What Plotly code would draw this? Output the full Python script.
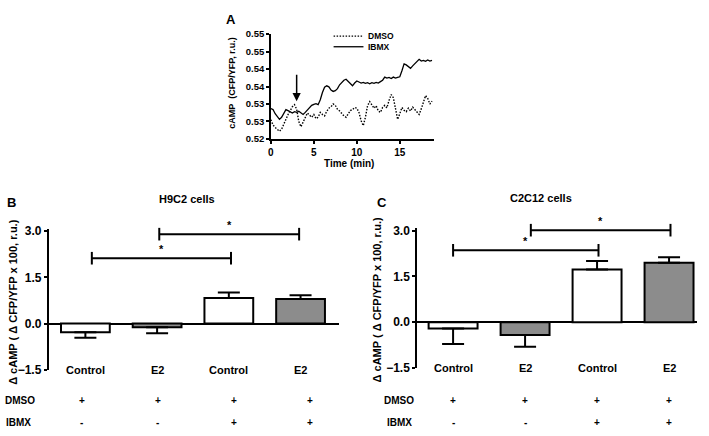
import plotly.graph_objects as go

# ---------------- data ----------------
# Panel A: time course (min) and cAMP (CFP/YFP, r.u.)
time_min = [0.00, 0.25, 0.50, 0.75, 1.00, 1.25, 1.50, 1.75, 2.00, 2.25, 2.50, 2.75,
            3.00, 3.25, 3.50, 3.75, 4.00, 4.25, 4.50, 4.75, 5.00, 5.25, 5.50, 5.75,
            6.00, 6.25, 6.50, 6.75, 7.00, 7.25, 7.50, 7.75, 8.00, 8.25, 8.50, 8.75,
            9.00, 9.25, 9.50, 9.75, 10.00, 10.25, 10.50, 10.75, 11.00, 11.25, 11.50, 11.75,
            12.00, 12.25, 12.50, 12.75, 13.00, 13.25, 13.50, 13.75, 14.00, 14.25, 14.50, 14.75,
            15.00, 15.25, 15.50, 15.75, 16.00, 16.25, 16.50, 16.75, 17.00, 17.25, 17.50, 17.75,
            18.00, 18.25, 18.50, 18.75]

ibmx_trace = [0.5287, 0.5284, 0.5272, 0.5262, 0.5256, 0.5262, 0.5275, 0.5284, 0.5281, 0.5277, 0.5274, 0.5278,
              0.5276, 0.5279, 0.5273, 0.5270, 0.5276, 0.5283, 0.5292, 0.5296, 0.5299, 0.5301, 0.5298, 0.5312,
              0.5333, 0.5348, 0.5352, 0.5349, 0.5340, 0.5336, 0.5338, 0.5344, 0.5355, 0.5362, 0.5368, 0.5371,
              0.5364, 0.5356, 0.5352, 0.5360, 0.5366, 0.5363, 0.5360, 0.5362, 0.5359, 0.5361, 0.5358, 0.5361,
              0.5359, 0.5362, 0.5360, 0.5364, 0.5368, 0.5377, 0.5374, 0.5376, 0.5373, 0.5377, 0.5374, 0.5376,
              0.5378, 0.5395, 0.5415, 0.5412, 0.5406, 0.5402, 0.5409, 0.5416, 0.5424, 0.5428, 0.5423, 0.5425,
              0.5422, 0.5426, 0.5423, 0.5425]

dmso_trace = [0.5255, 0.5240, 0.5233, 0.5226, 0.5222, 0.5228, 0.5243, 0.5256, 0.5270, 0.5281, 0.5292, 0.5298,
              0.5285, 0.5250, 0.5235, 0.5248, 0.5262, 0.5274, 0.5268, 0.5262, 0.5270, 0.5258, 0.5262, 0.5276,
              0.5270, 0.5266, 0.5279, 0.5288, 0.5292, 0.5300, 0.5296, 0.5285, 0.5280, 0.5272, 0.5266, 0.5262,
              0.5270, 0.5281, 0.5284, 0.5290, 0.5288, 0.5276, 0.5252, 0.5238, 0.5262, 0.5295, 0.5307, 0.5296,
              0.5288, 0.5295, 0.5280, 0.5276, 0.5290, 0.5296, 0.5289, 0.5310, 0.5327, 0.5318, 0.5282, 0.5256,
              0.5272, 0.5290, 0.5282, 0.5278, 0.5288, 0.5280, 0.5291, 0.5284, 0.5276, 0.5270, 0.5286, 0.5305,
              0.5324, 0.5316, 0.5300, 0.5308]

arrow_time = 3.0
arrow_from = 0.5388
arrow_to = 0.5308

a_xticks = [0, 5, 10, 15]
a_yticks = [0.520, 0.525, 0.530, 0.535, 0.540, 0.545, 0.550]
a_yticktext = ["0.52", "0.53", "0.53", "0.54", "0.54", "0.55", "0.55"]

# Panels B and C: bar charts
treatments = ["Control", "E2", "Control", "E2"]
dmso_signs = ["+", "+", "+", "+"]
ibmx_signs = ["-", "-", "+", "+"]

h9c2_mean = [-0.28, -0.12, 0.83, 0.80]
h9c2_sem = [0.18, 0.19, 0.18, 0.12]
c2c12_mean = [-0.21, -0.42, 1.73, 1.95]
c2c12_sem = [0.51, 0.39, 0.28, 0.18]

# significance brackets: (start, end, height)
h9c2_brackets = [(0.09, 2.03, 2.12), (1.03, 2.98, 2.90)]
c2c12_brackets = [(0.00, 2.02, 2.36), (1.08, 3.02, 3.02)]

bar_ticks = [-1.5, 0.0, 1.5, 3.0]

# ---------------- styling / layout ----------------
W, H = 709, 436
FONT = "Liberation Sans, Arial, sans-serif"
GRAY = "#8c8c8c"
YTOP = 3.08   # a bit of head-room above the 3.0 tick for the brackets


def px(x):
    return x / W


def py(y):
    return 1 - y / H


fig = go.Figure()

# Panel A traces
fig.add_trace(go.Scatter(x=time_min, y=dmso_trace, mode="lines", name="DMSO",
                         line=dict(color="black", width=1.4, dash="1.5px,1.5px"),
                         xaxis="x", yaxis="y", showlegend=False))
fig.add_trace(go.Scatter(x=time_min, y=ibmx_trace, mode="lines", name="IBMX",
                         line=dict(color="black", width=1.3),
                         xaxis="x", yaxis="y", showlegend=False))


def add_bars(means, sems, brackets, xa, ya):
    colors = ["white" if t == "Control" else GRAY for t in treatments]
    plus = [s if m > 0 else 0 for m, s in zip(means, sems)]
    minus = [s if m < 0 else 0 for m, s in zip(means, sems)]
    fig.add_trace(go.Bar(
        x=list(range(len(means))), y=means, width=0.68,
        marker=dict(color=colors, line=dict(color="black", width=2)),
        error_y=dict(type="data", symmetric=False, array=plus, arrayminus=minus,
                     color="black", thickness=2, width=11),
        xaxis=xa, yaxis=ya, showlegend=False))
    for (x0, x1, yv) in brackets:
        fig.add_trace(go.Scatter(
            x=[x0, x1], y=[yv, yv], mode="lines+markers",
            line=dict(color="black", width=2),
            marker=dict(symbol="line-ns", size=9, line=dict(color="black", width=2)),
            xaxis=xa, yaxis=ya, showlegend=False, cliponaxis=False, hoverinfo="skip"))


add_bars(h9c2_mean, h9c2_sem, h9c2_brackets, "x2", "y2")
add_bars(c2c12_mean, c2c12_sem, c2c12_brackets, "x3", "y3")

bold = dict(family=FONT, color="black", weight="bold")


def bar_yaxis(y_bottom_px, y_top_px, anchor):
    # y_top_px is where 3.0 sits; extend domain for the head-room
    unit = (y_bottom_px - y_top_px) / 4.5
    top = y_top_px - (YTOP - 3.0) * unit
    return dict(domain=[py(y_bottom_px), py(top)], range=[-1.5, YTOP], anchor=anchor,
                tickvals=bar_ticks, tickformat=".1f", linewidth=2, tickwidth=2, ticklen=3,
                showline=True, linecolor="black", showgrid=False, ticks="outside", tickcolor="black",
                zeroline=True, zerolinecolor="black", zerolinewidth=2,
                tickfont=dict(size=12, **bold))


layout = dict(
    width=W, height=H, margin=dict(l=0, r=0, t=0, b=0),
    paper_bgcolor="white", plot_bgcolor="white",
    font=dict(family=FONT, color="black"),
    xaxis=dict(domain=[px(269), px(433)], range=[0, 19], anchor="y",
               tickvals=a_xticks, linewidth=1.5, tickwidth=1.5, ticklen=3,
               showline=True, linecolor="black", showgrid=False, zeroline=False,
               ticks="outside", tickcolor="black",
               tickfont=dict(size=10, **bold)),
    yaxis=dict(domain=[py(137), py(29)], range=[0.52, 0.55], anchor="x",
               tickvals=a_yticks, ticktext=a_yticktext, linewidth=1.5, tickwidth=1.5, ticklen=3,
               showline=True, linecolor="black", showgrid=False, zeroline=False,
               ticks="outside", tickcolor="black",
               tickfont=dict(size=9.5, **bold)),
    xaxis2=dict(domain=[px(46), px(337)], range=[-0.51, 3.53], anchor="y2",
                showline=False, showgrid=False, zeroline=False, showticklabels=False, ticks=""),
    yaxis2=bar_yaxis(375, 232, "x2"),
    xaxis3=dict(domain=[px(416), px(697)], range=[-0.498, 3.389], anchor="y3",
                showline=False, showgrid=False, zeroline=False, showticklabels=False, ticks=""),
    yaxis3=bar_yaxis(373, 231.7, "x3"),
)
fig.update_layout(**layout)

ann = []


def paper_text(x, y, text, size, angle=0, xanchor="center"):
    ann.append(dict(x=px(x), y=py(y), xref="paper", yref="paper", text=text, showarrow=False,
                    textangle=angle, xanchor=xanchor, yanchor="middle",
                    font=dict(size=size, **bold)))


# Panel letters and titles
paper_text(229, 14, "A", 13)
paper_text(9, 203, "B", 13)
paper_text(381, 203, "C", 13)
paper_text(185, 199, "H9C2 cells", 11)
paper_text(540, 198, "C2C12 cells", 11)
paper_text(347, 162, "Time (min)", 10)
paper_text(230, 80, "cAMP\u00a0\u00a0(CFP/YFP, r.u.)", 9, angle=-90)
paper_text(10, 305, "\u0394 cAMP ( \u0394 CFP/YFP x 100, r.u.)", 11, angle=-90)
paper_text(376, 302, "\u0394 cAMP ( \u0394 CFP/YFP x 100, r.u.)", 11, angle=-90)

# Legend of panel A
fig.add_shape(type="line", xref="paper", yref="paper", x0=px(332), x1=px(362), y0=py(31), y1=py(31),
              line=dict(color="black", width=1.4, dash="1.5px,1.5px"))
fig.add_shape(type="line", xref="paper", yref="paper", x0=px(332), x1=px(362), y0=py(42), y1=py(42),
              line=dict(color="black", width=1.3))
paper_text(365, 31, "DMSO", 8.5, xanchor="left")
paper_text(365, 42, "IBMX", 8.5, xanchor="left")

# Arrow in panel A
ann.append(dict(x=arrow_time, y=arrow_to, ax=arrow_time, ay=arrow_from, xref="x", yref="y",
                axref="x", ayref="y", showarrow=True, arrowhead=2, arrowsize=1.1,
                arrowwidth=1.5, arrowcolor="black", text=""))

# Category labels, stars and treatment rows
for xa, ya, brackets, shift, dmso_x, ibmx_x in [
        ("x2", "y2", h9c2_brackets, 0.06, 17, 16),
        ("x3", "y3", c2c12_brackets, 0.0, 397.5, 398)]:
    for i, t in enumerate(treatments):
        ann.append(dict(x=i, y=-1.5, xref=xa, yref=ya, text=t, showarrow=False,
                        yanchor="middle", font=dict(size=11, **bold)))
        xpos = i * (1 + shift) - (0.05 if shift else 0)
        ann.append(dict(x=xpos, y=py(407), xref=xa, yref="paper", text=dmso_signs[i],
                        showarrow=False, yanchor="middle", font=dict(size=10, **bold)))
        ann.append(dict(x=xpos, y=py(429), xref=xa, yref="paper", text=ibmx_signs[i],
                        showarrow=False, yanchor="middle", font=dict(size=10, **bold)))
    for (x0, x1, yv) in brackets:
        ann.append(dict(x=(x0 + x1) / 2, y=yv, xref=xa, yref=ya, text="*", showarrow=False,
                        yanchor="bottom", yshift=1, font=dict(size=11, **bold)))
    paper_text(dmso_x, 407, "DMSO", 10)
    paper_text(ibmx_x, 429, "IBMX", 10)

fig.update_layout(annotations=ann)
fig.write_html("out.html", config=dict(displayModeBar=False),
               post_script="document.body.style.margin='0';document.body.style.overflow='hidden';")
